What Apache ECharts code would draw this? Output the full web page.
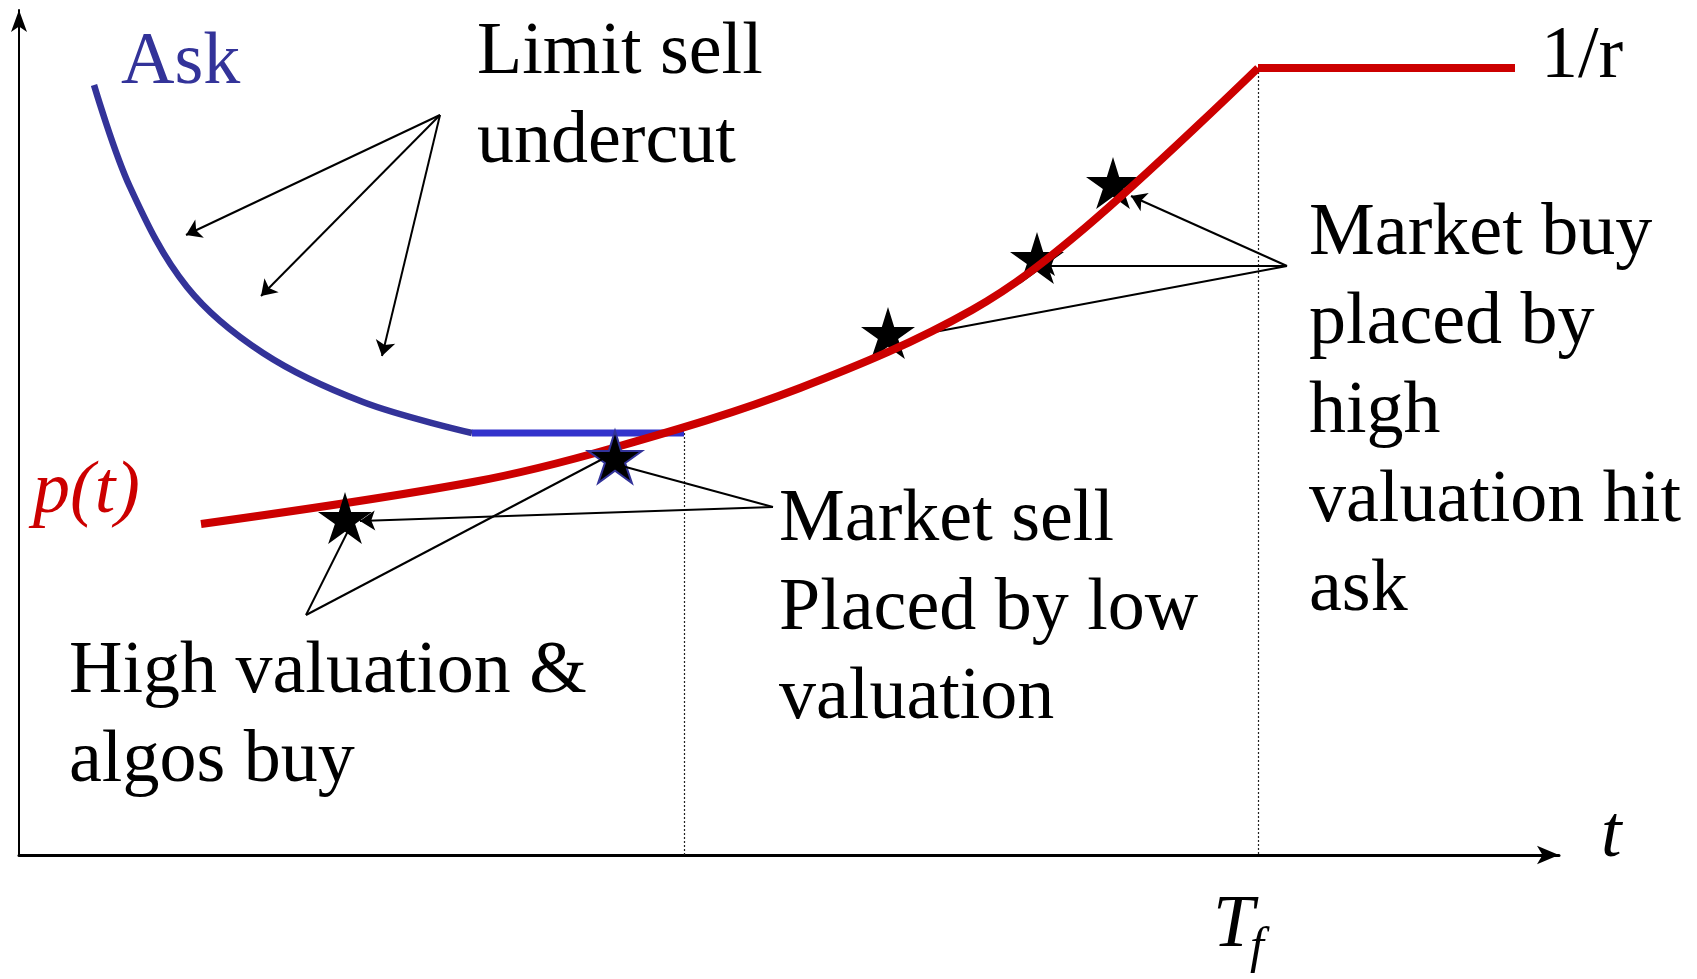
<!DOCTYPE html>
<html>
<head>
<meta charset="utf-8">
<title>Ask and p(t)</title>
<script src="https://cdn.jsdelivr.net/npm/echarts@6/dist/echarts.min.js"></script>
<style>
  html, body { margin: 0; padding: 0; background: #fff; }
  #chart { width: 1697px; height: 979px; }
</style>
</head>
<body>
<div id="chart"></div>
<script>
// values, in chart units (t across, price up)
const askCurve = [
  [7.5, 77.0], [11.1, 66.8], [16.8, 56.8], [24.4, 50.2], [34.4, 45.3], [45.3, 42.2]
];
const askFloor = [[45.3, 42.2], [66.5, 42.2]];
const priceCurve = [
  [18.2, 33.1], [45.4, 37.3], [59.4, 40.7], [78.1, 46.7], [95.3, 54.5], [106.7, 62.8],
  [123.9, 78.7]
];
const priceCap = [[123.9, 78.7], [149.6, 78.7]];
// trades before the ask floor ends, and market buys after it
const earlyTrades = [[32.6, 33.7], [59.6, 39.8]];
const buyTrades = [[86.9, 52.2], [101.8, 59.7], [109.4, 67.2]];
const guideLines = [
  [[66.5, 42.2], [66.5, 0]],
  [[123.9, 78.7], [123.9, 0]]
];
// callouts with an arrow head at the far end
const arrowCallouts = [
  [[42.1, 74.0], [16.7, 62.0]],
  [[42.1, 74.0], [24.2, 55.9]],
  [[42.1, 74.0], [36.3, 49.9]],
  [[75.4, 34.8], [34.1, 33.4]],
  [[126.8, 58.9], [111.2, 65.9]],
  [[126.8, 58.9], [102.1, 58.9]]
];
// callouts without a head
const plainCallouts = [
  [[28.7, 24.0], [33.1, 32.8]],
  [[28.7, 24.0], [59.3, 40.1]],
  [[75.4, 34.8], [60.3, 38.9]],
  [[126.8, 58.9], [91.0, 52.2]]
];
const notes = {
  limitSell: ['Limit sell', 'undercut'],
  marketBuy: ['Market buy', 'placed by', 'high', 'valuation hit', 'ask'],
  marketSell: ['Market sell', 'Placed by low', 'valuation'],
  highVal: ['High valuation &', 'algos buy']
};

const SERIF = '"Liberation Serif", "Times New Roman", serif';
const RED = '#cc0000';
const STAR = 'path://M0,-50 L11,-14 L48,-14 L18,8 L30,44 L0,22 L-30,44 L-18,8 L-48,-14 L-11,-14 Z';

const chart = echarts.init(document.getElementById('chart'));

// multi-line block: first baseline at y, lines 89px apart
function block(lines, x, baseline, color, italic) {
  return {
    type: 'text',
    x: x,
    y: baseline - 22 - 44.5,
    style: {
      text: lines.join('\n'),
      font: (italic ? 'italic ' : '') + '74px ' + SERIF,
      lineHeight: 89,
      fill: color || '#000',
      verticalAlign: 'top'
    }
  };
}

const option = {
  animation: false,
  backgroundColor: '#fff',
  grid: { left: 19, top: 10, width: 1540, height: 845 },
  xAxis: {
    type: 'value', min: 0, max: 154,
    axisLine: { lineStyle: { color: '#000', width: 3 }, symbol: ['none', 'arrow'], symbolSize: [14, 22] },
    axisTick: { show: false }, axisLabel: { show: false }, splitLine: { show: false }
  },
  yAxis: {
    type: 'value', min: 0, max: 84.5,
    axisLine: { lineStyle: { color: '#000', width: 2 }, symbol: ['none', 'arrow'], symbolSize: [12, 22] },
    axisTick: { show: false }, axisLabel: { show: false }, splitLine: { show: false }
  },
  series: [
    {
      type: 'lines', coordinateSystem: 'cartesian2d', z: 1,
      lineStyle: { color: '#222', width: 1.2, type: [2, 2], opacity: 1 },
      data: guideLines.map(c => ({ coords: c }))
    },
    {
      type: 'line', data: askCurve, smooth: 0.35, symbol: 'none', z: 2,
      lineStyle: { color: '#333399', width: 6.5 }
    },
    {
      type: 'line', data: askFloor, symbol: 'none', z: 2,
      lineStyle: { color: '#3333cc', width: 7 }
    },
    // market buy stars sit under the red line
    {
      type: 'scatter', z: 3, symbol: STAR, symbolSize: [54, 52],
      itemStyle: { color: '#000', opacity: 1 },
      data: buyTrades
    },
    {
      type: 'lines', coordinateSystem: 'cartesian2d', z: 3,
      symbol: ['none', 'arrow'], symbolSize: 15,
      lineStyle: { color: '#000', width: 2, opacity: 1 },
      data: arrowCallouts.slice(4).map(c => ({ coords: c }))
    },
    {
      type: 'lines', coordinateSystem: 'cartesian2d', z: 3,
      lineStyle: { color: '#000', width: 2, opacity: 1 },
      data: plainCallouts.slice(3).map(c => ({ coords: c }))
    },
    {
      type: 'line', data: priceCurve, smooth: 0.35, symbol: 'none', z: 4,
      lineStyle: { color: RED, width: 8 }
    },
    {
      type: 'line', data: priceCap, symbol: 'none', z: 4,
      lineStyle: { color: RED, width: 8 }
    },
    {
      type: 'scatter', z: 5, symbol: STAR, symbolSize: [54, 52],
      itemStyle: { color: '#000', opacity: 1 },
      data: earlyTrades.map((p, i) => i === 1
        ? { value: p, itemStyle: { borderColor: '#333399', borderWidth: 2 } }
        : p)
    },
    {
      type: 'lines', coordinateSystem: 'cartesian2d', z: 6,
      symbol: ['none', 'arrow'], symbolSize: 15,
      lineStyle: { color: '#000', width: 2, opacity: 1 },
      data: arrowCallouts.slice(0, 4).map(c => ({ coords: c }))
    },
    {
      type: 'lines', coordinateSystem: 'cartesian2d', z: 6,
      lineStyle: { color: '#000', width: 2, opacity: 1 },
      data: plainCallouts.slice(0, 3).map(c => ({ coords: c }))
    }
  ],
  graphic: [
    block(['Ask'], 121, 86, '#333399'),
    block(['1/r'], 1541, 80),
    block(notes.limitSell, 477, 76),
    block(notes.marketBuy, 1309, 257),
    block(notes.marketSell, 779, 543),
    block(notes.highVal, 69, 695),
    block(['p(t)'], 33, 515, RED, true),
    block(['t'], 1601, 859, '#000', true),
    block(['T'], 1213, 949, '#000', true),
    {
      type: 'text', x: 1250, y: 964 - 15 - 30,
      style: { text: 'f', font: 'italic 50px ' + SERIF, lineHeight: 60, fill: '#000', verticalAlign: 'top' }
    }
  ]
};

chart.setOption(option);
</script>
</body>
</html>
